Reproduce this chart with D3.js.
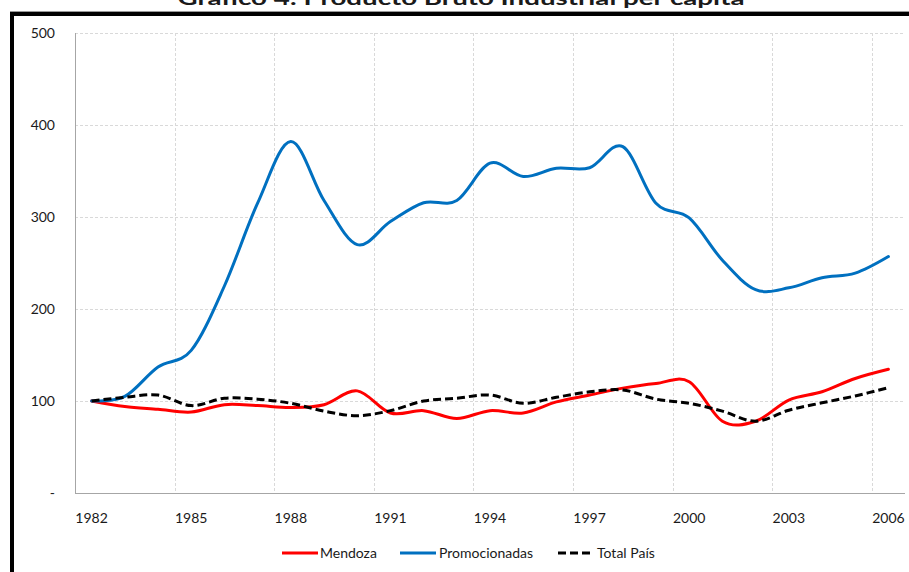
<!DOCTYPE html>
<html>
<head>
<meta charset="utf-8">
<script src="https://cdn.jsdelivr.net/npm/d3@7"></script>
<style>
  html, body { margin: 0; padding: 0; background: #fff; }
  svg { display: block; }
  text { font-family: Lato, "Open Sans", sans-serif; fill: #1a1a1a; }
</style>
</head>
<body>
<svg id="chart" width="909" height="572"></svg>
<script>
const years = d3.range(1982, 2007);
const mendoza = [100, 94, 91, 88, 96, 95, 93, 96, 111, 87, 89.5, 81, 89.5, 87, 99, 106.5, 114, 119, 121, 78, 78, 101, 110, 124.5, 134.5];
const promocionadas = [100, 105, 137, 155, 225, 315, 382, 318, 270, 295, 315.5, 318, 358.5, 344, 353, 353.5, 376.5, 315, 299, 253, 221, 223, 234, 239, 257];
const totalPais = [100, 104, 106.5, 95, 103, 102, 97.5, 89, 84, 89.5, 100, 103, 106.5, 97.5, 104, 110, 112, 102, 97.5, 89, 78, 90, 98, 105.5, 114.5];
const yTicks = [0, 100, 200, 300, 400, 500];
const xLabelYears = [1982, 1985, 1988, 1991, 1994, 1997, 2000, 2003, 2006];
const title = "Gráfico 4: Producto Bruto Industrial per cápita";

const series = [
  { name: "Mendoza", values: mendoza, color: "#FF0000", dash: null },
  { name: "Promocionadas", values: promocionadas, color: "#0070C0", dash: null },
  { name: "Total País", values: totalPais, color: "#000000", dash: "8,4" }
];

const svg = d3.select("#chart");
const L = 75, R = 905, T = 33, B = 493;

const x = d3.scaleBand().domain(years).range([L, R]).padding(0);
const y = d3.scaleLinear().domain([0, 500]).range([B, T]);
const cx = d => x(d) + x.bandwidth() / 2;

// title (partially cut off at top, as in the reference)
svg.append("text")
  .attr("x", 461).attr("y", 5)
  .attr("text-anchor", "middle")
  .attr("font-weight", "bold")
  .attr("font-size", 19)
  .attr("textLength", 567)
  .attr("lengthAdjust", "spacingAndGlyphs")
  .text(title);

// frame border
svg.append("line").attr("x1", 10).attr("x2", 909).attr("y1", 11.5).attr("y2", 11.5)
  .attr("stroke", "#999").attr("stroke-width", 1);
svg.append("line").attr("x1", 10).attr("x2", 909).attr("y1", 14).attr("y2", 14)
  .attr("stroke", "#000").attr("stroke-width", 4);
svg.append("line").attr("x1", 12).attr("x2", 12).attr("y1", 12).attr("y2", 572)
  .attr("stroke", "#000").attr("stroke-width", 4);

// horizontal gridlines
svg.append("g").selectAll("line").data(yTicks.filter(d => d > 0)).join("line")
  .attr("x1", L).attr("x2", R)
  .attr("y1", d => Math.round(y(d)) + 0.5).attr("y2", d => Math.round(y(d)) + 0.5)
  .attr("stroke", "#D9D9D9").attr("stroke-width", 1).attr("stroke-dasharray", "3,2");

// vertical gridlines at category boundaries every 3 categories
svg.append("g").selectAll("line").data(xLabelYears.filter(d => d > 1982)).join("line")
  .attr("x1", d => Math.round(x(d)) + 0.5).attr("x2", d => Math.round(x(d)) + 0.5)
  .attr("y1", T).attr("y2", B)
  .attr("stroke", "#D9D9D9").attr("stroke-width", 1).attr("stroke-dasharray", "3,2");

// axes lines
svg.append("line").attr("x1", L + 0.5).attr("x2", L + 0.5).attr("y1", T).attr("y2", B)
  .attr("stroke", "#A6A6A6").attr("stroke-width", 1);
svg.append("line").attr("x1", L).attr("x2", R).attr("y1", B + 0.5).attr("y2", B + 0.5)
  .attr("stroke", "#A6A6A6").attr("stroke-width", 1);

// y labels
svg.append("g").selectAll("text").data(yTicks).join("text")
  .attr("x", 55).attr("y", d => y(d) + 5)
  .attr("text-anchor", "end")
  .attr("font-size", 14)
  .text(d => d === 0 ? "-" : d);

// x labels
svg.append("g").selectAll("text").data(xLabelYears).join("text")
  .attr("x", d => cx(d)).attr("y", 523)
  .attr("text-anchor", "middle")
  .attr("font-size", 14)
  .text(d => d);

// lines
const line = d3.line()
  .x((d, i) => cx(years[i]))
  .y(d => y(d))
  .curve(d3.curveCatmullRom.alpha(0));

svg.append("g").selectAll("path").data(series).join("path")
  .attr("d", s => line(s.values))
  .attr("fill", "none")
  .attr("stroke", s => s.color)
  .attr("stroke-width", 3)
  .attr("stroke-linecap", s => s.dash ? "butt" : "round")
  .attr("stroke-dasharray", s => s.dash);

// legend
const legendItems = [
  { s: series[0], x: 282, tx: 320 },
  { s: series[1], x: 400, tx: 439 },
  { s: series[2], x: 558, tx: 597 }
];
const lg = svg.append("g");
legendItems.forEach(it => {
  lg.append("line").attr("x1", it.x).attr("x2", it.x + 36)
    .attr("y1", 553).attr("y2", 553)
    .attr("stroke", it.s.color).attr("stroke-width", 3)
    .attr("stroke-dasharray", it.s.dash);
  lg.append("text").attr("x", it.tx).attr("y", 558)
    .attr("font-size", 14).text(it.s.name);
});
</script>
</body>
</html>
